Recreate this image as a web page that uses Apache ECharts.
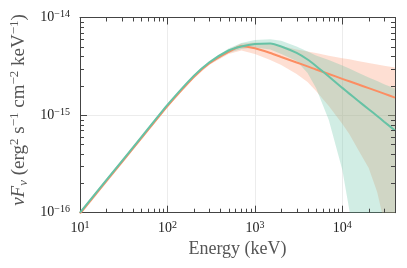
<!DOCTYPE html>
<html><head><meta charset="utf-8">
<script src="https://cdn.jsdelivr.net/npm/echarts@6/dist/echarts.min.js"></script>
<style>html,body{margin:0;padding:0;background:#fff}#c{width:407px;height:268px}</style>
</head><body><div id="c"></div>
<script>
// Energy grid (keV)
const energy = [10,20,50,100,200,300,500,700,1000,1500,2000,3000,4000,5000,7000,10000,12000,15000,20000,25000,30000,40000];
// Orange model (nuFnu, erg^2 s^-1 cm^-2 keV^-1)
const orangeFlux  = [9.81e-17,2.11e-16,5.76e-16,1.24e-15,2.46e-15,3.38e-15,4.45e-15,5.07e-15,4.83e-15,4.33e-15,3.94e-15,3.46e-15,3.16e-15,2.93e-15,2.64e-15,2.35e-15,2.22e-15,2.07e-15,1.89e-15,1.76e-15,1.66e-15,1.51e-15];
const orangeUpper = [1.03e-16,2.19e-16,5.97e-16,1.28e-15,2.55e-15,3.52e-15,4.70e-15,5.42e-15,5.55e-15,5.35e-15,5.11e-15,4.70e-15,4.48e-15,4.33e-15,4.05e-15,3.82e-15,3.73e-15,3.58e-15,3.42e-15,3.30e-15,3.20e-15,3.07e-15];
const orangeLower = [9.36e-17,2.02e-16,5.56e-16,1.20e-15,2.37e-15,3.26e-15,4.23e-15,4.59e-15,4.23e-15,3.67e-15,3.26e-15,2.64e-15,2.18e-15,1.77e-15,1.24e-15,8.11e-16,6.40e-16,4.50e-16,2.87e-16,1.63e-16,8.03e-17,1.61e-17];
// Green model
const greenFlux  = [1.00e-16,2.16e-16,5.90e-16,1.27e-15,2.52e-15,3.46e-15,4.59e-15,5.05e-15,5.35e-15,5.42e-15,5.05e-15,4.33e-15,3.71e-15,3.19e-15,2.49e-15,1.90e-15,1.66e-15,1.41e-15,1.15e-15,9.79e-16,8.56e-16,6.96e-16];
const greenUpper = [1.03e-16,2.21e-16,6.04e-16,1.30e-15,2.59e-15,3.58e-15,4.81e-15,5.48e-15,5.88e-15,5.98e-15,5.77e-15,5.05e-15,4.48e-15,4.08e-15,3.67e-15,3.22e-15,3.00e-15,2.73e-15,2.43e-15,2.23e-15,2.07e-15,1.87e-15];
const greenLower = [9.70e-17,2.09e-16,5.76e-16,1.24e-15,2.46e-15,3.34e-15,4.33e-15,4.76e-15,4.93e-15,4.70e-15,4.23e-15,3.58e-15,2.70e-15,1.90e-15,8.91e-16,2.74e-16,1.07e-16,3.28e-17,4.96e-18,1.2e-18,3e-19,5e-20];
// Axis ranges and tick values
const xMin = 10, xMax = 40000, yMin = 1e-16, yMax = 1e-14;
const xMinorTicks = [20,30,40,50,60,70,80,90,200,300,400,500,600,700,800,900,2000,3000,4000,5000,6000,7000,8000,9000,20000,30000];
const yMinorTicks = [2e-16,3e-16,4e-16,5e-16,6e-16,7e-16,8e-16,9e-16,2e-15,3e-15,4e-15,5e-15,6e-15,7e-15,8e-15,9e-15];
const xTitle = 'Energy (keV)';

const ORANGE = '#fc8d62', GREEN = '#66c2a5', FRAME = '#444';
const SERIF = '"Liberation Serif", "DejaVu Serif", serif';

function expLabel(v) {
  const l = Math.log10(v), e = Math.round(l);
  if (Math.abs(l - e) > 1e-6) return '';
  return '{b|10}{s|' + String(e).replace('-', '\u2212') + '}';
}
const labelRich = {
  b: {fontFamily: SERIF, fontSize: 14, color: '#222', lineHeight: 16},
  s: {fontFamily: SERIF, fontSize: 10, color: '#222', lineHeight: 10, verticalAlign: 'top'}
};

function band(upper, lower, color, op, z) {
  return {
    type: 'custom', coordinateSystem: 'cartesian2d', xAxisIndex: 0, yAxisIndex: 0,
    clip: true, silent: true, z: z,
    data: [[energy[0], upper[0]]],
    renderItem: function (params, api) {
      const pts = [];
      for (let i = 0; i < energy.length; i++) pts.push(api.coord([energy[i], upper[i]]));
      for (let i = energy.length - 1; i >= 0; i--) pts.push(api.coord([energy[i], lower[i]]));
      return {type: 'polygon', shape: {points: pts}, style: {fill: color, opacity: op, stroke: null}};
    }
  };
}
function line(vals, color, z) {
  return {
    type: 'line', xAxisIndex: 0, yAxisIndex: 0, z: z, showSymbol: false, symbol: 'none', silent: true,
    smooth: 0.2, clip: true,
    data: energy.map((e, i) => [e, vals[i]]),
    lineStyle: {color: color, width: 2}
  };
}
function minorX() {
  return {
    type: 'custom', coordinateSystem: 'cartesian2d', xAxisIndex: 0, yAxisIndex: 0, silent: true, z: 10,
    data: xMinorTicks.map(v => [v, 1e-15]),
    renderItem: function (params, api) {
      const cs = params.coordSys;
      const x = Math.round(api.coord([api.value(0), 1e-15])[0]) + 0.5;
      const yb = cs.y + cs.height, yt = cs.y;
      return {type: 'group', children: [
        {type: 'line', shape: {x1: x, y1: yb, x2: x, y2: yb - 4}, style: {stroke: FRAME, lineWidth: 1}},
        {type: 'line', shape: {x1: x, y1: yt, x2: x, y2: yt + 4}, style: {stroke: FRAME, lineWidth: 1}}
      ]};
    }
  };
}
function minorY() {
  return {
    type: 'custom', coordinateSystem: 'cartesian2d', xAxisIndex: 0, yAxisIndex: 0, silent: true, z: 10,
    data: yMinorTicks.map(v => [100, v]),
    renderItem: function (params, api) {
      const cs = params.coordSys;
      const y = Math.round(api.coord([100, api.value(1)])[1]) + 0.5;
      const xl = cs.x, xr = cs.x + cs.width;
      return {type: 'group', children: [
        {type: 'line', shape: {x1: xl, y1: y, x2: xl + 4, y2: y}, style: {stroke: FRAME, lineWidth: 1}},
        {type: 'line', shape: {x1: xr, y1: y, x2: xr - 4, y2: y}, style: {stroke: FRAME, lineWidth: 1}}
      ]};
    }
  };
}

const axisLine = {show: true, onZero: false, lineStyle: {color: FRAME, width: 1}};
const majorTick = {show: true, inside: true, length: 7, lineStyle: {color: FRAME, width: 1}};

const chart = echarts.init(document.getElementById('c'), null, {renderer: 'canvas'});
chart.setOption({
  animation: false,
  backgroundColor: '#fff',
  grid: {left: 80, right: 12, top: 17.5, bottom: 55.3, containLabel: false},
  graphic: [{
    type: 'text', x: 19, y: 110, rotation: Math.PI / 2, silent: true,
    style: {
      text: '{i|\u03bdF}{sub|\u03bd}{r| (erg}{sup|2}{r| s}{sup|\u22121}{r| cm}{sup|\u22122}{r| keV}{sup|\u22121}{r|)}',
      align: 'center', verticalAlign: 'middle', fill: '#555',
      rich: {
        i: {fontFamily: SERIF, fontSize: 19, fontStyle: 'italic', fill: '#555', lineHeight: 22},
        sub: {fontFamily: SERIF, fontSize: 13, fontStyle: 'italic', fill: '#555', lineHeight: 13, verticalAlign: 'bottom'},
        r: {fontFamily: SERIF, fontSize: 19, fill: '#555', lineHeight: 22},
        sup: {fontFamily: SERIF, fontSize: 13, fill: '#555', lineHeight: 13, verticalAlign: 'top'}
      }
    }
  }],
  xAxis: [
    {type: 'log', logBase: 10, min: xMin, max: xMax, position: 'bottom',
     axisLine: axisLine, axisTick: majorTick,
     axisLabel: {formatter: expLabel, rich: labelRich, margin: 8, showMaxLabel: false},
     splitLine: {show: true, lineStyle: {color: '#ececec', width: 1}},
     name: xTitle, nameLocation: 'middle', nameGap: 25,
     nameTextStyle: {fontFamily: SERIF, fontSize: 18, color: '#555'}},
    {type: 'log', logBase: 10, min: xMin, max: xMax, position: 'top',
     axisLine: axisLine, axisTick: majorTick, axisLabel: {show: false}, splitLine: {show: false}}
  ],
  yAxis: [
    {type: 'log', logBase: 10, min: yMin, max: yMax, position: 'left',
     axisLine: axisLine, axisTick: majorTick,
     axisLabel: {formatter: expLabel, rich: labelRich, margin: 10},
     splitLine: {show: true, lineStyle: {color: '#ececec', width: 1}}},
    {type: 'log', logBase: 10, min: yMin, max: yMax, position: 'right',
     axisLine: axisLine, axisTick: majorTick, axisLabel: {show: false}, splitLine: {show: false}}
  ],
  series: [
    band(orangeUpper, orangeLower, ORANGE, 0.28, 1),
    band(greenUpper, greenLower, GREEN, 0.3, 2),
    line(orangeFlux, ORANGE, 4),
    line(greenFlux, GREEN, 5),
    minorX(),
    minorY()
  ]
});
</script>
</body></html>
